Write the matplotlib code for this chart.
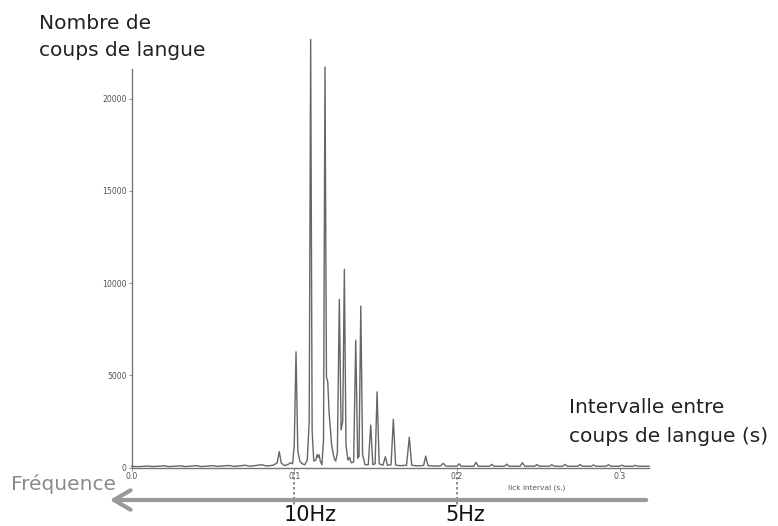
import matplotlib
matplotlib.use("Agg")
import matplotlib.pyplot as plt
import matplotlib.transforms as mtransforms
from matplotlib.patches import FancyArrowPatch

# ---- data (lick interval in s, count) ----
lick_interval = [
    0.000, 0.005, 0.010, 0.013, 0.020, 0.023, 0.030, 0.033, 0.040, 0.043,
    0.050, 0.053, 0.060, 0.063, 0.070, 0.073, 0.080, 0.083, 0.087, 0.0895,
    0.0908, 0.0920, 0.0940, 0.0965, 0.0975, 0.0990, 0.1000, 0.1011, 0.1022, 0.1035,
    0.1050, 0.1065, 0.1080, 0.1092, 0.1101, 0.1110, 0.1120, 0.1133, 0.1140, 0.1146,
    0.1152, 0.1160, 0.1170, 0.1180, 0.1189, 0.1198, 0.1206, 0.1214, 0.1230, 0.1245,
    0.1255, 0.1265, 0.1277, 0.1288, 0.1298, 0.1308, 0.1318, 0.1330, 0.1340, 0.1350,
    0.1365, 0.1378, 0.1390, 0.1398, 0.1409, 0.1420, 0.1435, 0.1455, 0.1470, 0.1483,
    0.1497, 0.1509, 0.1522, 0.1545, 0.1560, 0.1573, 0.1595, 0.1609, 0.1623, 0.1650,
    0.1690, 0.1707, 0.1722, 0.1760, 0.1795, 0.1808, 0.1822, 0.1860, 0.1900, 0.1916,
    0.1930, 0.2000, 0.2013, 0.2026, 0.2104, 0.2117, 0.2130, 0.2200, 0.2214, 0.2228,
    0.2292, 0.2306, 0.2320, 0.2388, 0.2402, 0.2416, 0.2477, 0.2491, 0.2505, 0.2569,
    0.2583, 0.2597, 0.2650, 0.2664, 0.2678, 0.2743, 0.2757, 0.2771, 0.2825, 0.2839,
    0.2853, 0.2917, 0.2931, 0.2945, 0.2999, 0.3013, 0.3027, 0.3081, 0.3095, 0.3109,
    0.3180,
]
lick_count = [
    60, 50, 80, 50, 90, 50, 90, 50, 100, 50,
    100, 60, 110, 60, 120, 70, 150, 80, 120, 250,
    860, 250, 100, 180, 260, 200, 1200, 6270, 900, 330,
    200, 150, 400, 2500, 23200, 2000, 350, 400, 700, 550,
    700, 350, 150, 1500, 21710, 4900, 4650, 3000, 1200, 500,
    350, 800, 9110, 2030, 2500, 10740, 1200, 400, 550, 250,
    300, 6900, 500, 600, 8750, 700, 150, 150, 2300, 150,
    200, 4100, 200, 120, 585, 120, 150, 2610, 130, 100,
    120, 1640, 120, 90, 110, 620, 100, 80, 90, 230,
    80, 70, 200, 70, 70, 280, 70, 70, 170, 70,
    70, 180, 70, 70, 260, 70, 70, 160, 70, 70,
    150, 70, 70, 170, 70, 70, 160, 70, 70, 140,
    70, 70, 150, 70, 70, 130, 70, 70, 120, 70,
    70,
]
x_ticks = [0.0, 0.1, 0.2, 0.3]
x_tick_labels = ["0.0", "0.1", "0.2", "0.3"]
y_ticks = [0, 5000, 10000, 15000, 20000]
y_tick_labels = ["0", "5000", "10000", "15000", "20000"]
freq_marks = [0.1, 0.2]
freq_labels = ["10Hz", "5Hz"]

W, H = 778, 526
fig = plt.figure(figsize=(W / 100, H / 100), dpi=100)
font = "DejaVu Sans"


def fx(px):
    return px / W


def fy(py):
    return 1 - py / H


ax = fig.add_axes([fx(131.5), fy(467.5), (649 - 131.5) / W, (467.5 - 69) / H])
ax.plot(lick_interval, lick_count, color="#666666", lw=1.0, clip_on=False)
ax.set_xlim(0, 0.318)
ax.set_ylim(0, 21600)
for s in ["top", "right"]:
    ax.spines[s].set_visible(False)
for s in ["left", "bottom"]:
    ax.spines[s].set_color("#777777")
    ax.spines[s].set_linewidth(1.0)
ax.set_xticks(x_ticks)
ax.set_xticklabels(x_tick_labels)
ax.set_yticks(y_ticks)
ax.set_yticklabels(y_tick_labels)
ax.tick_params(axis="both", direction="out", length=2, width=0.6, colors="#777777",
               labelsize=5.6, labelcolor="#555555", pad=1.5)

# small x label
fig.text(fx(537), fy(488), "lick interval (s.)", fontsize=5.3, color="#555555",
         ha="center", va="center")

# annotations
txt = dict(family=font, color="#222222", ha="left", va="baseline")
fig.text(fx(39), fy(29), "Nombre de", fontsize=14.5, **txt)
fig.text(fx(39), fy(56), "coups de langue", fontsize=14.5, **txt)
fig.text(fx(569), fy(413), "Intervalle entre", fontsize=14.5, **txt)
fig.text(fx(569), fy(442), "coups de langue (s)", fontsize=14.5, **txt)
fig.text(fx(11), fy(490), "Fréquence", fontsize=14.5, family=font, color="#8a8a8a",
         ha="left", va="baseline")

# frequency arrow
arrow = FancyArrowPatch((fx(649), fy(500)), (fx(107), fy(500)),
                        transform=fig.transFigure,
                        arrowstyle="->,head_length=6,head_width=3.5",
                        color="#9a9a9a", lw=3, mutation_scale=2)
fig.add_artist(arrow)

blend = mtransforms.blended_transform_factory(ax.transData, fig.transFigure)
for xm, lab, dx in zip(freq_marks, freq_labels, [16, 8]):
    ax.plot([xm, xm], [fy(472), fy(506)], transform=blend, color="#777777",
            lw=1.2, ls=(0, (1.5, 1.5)), clip_on=False)
    fig.text(fx(131.5 + xm * 1627 + dx), fy(521), lab, fontsize=15, family=font,
             color="#111111", ha="center", va="baseline")

fig.savefig("out.png", dpi=100)
